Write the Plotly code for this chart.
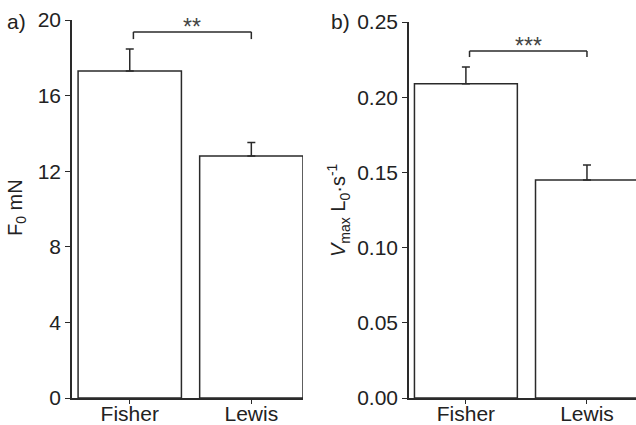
import plotly.graph_objects as go

categories = ["Fisher", "Lewis"]
force_vals = [17.3, 12.8]
force_err = [1.17, 0.72]
vmax_vals = [0.209, 0.145]
vmax_err = [0.011, 0.010]
force_ticks = [0, 4, 8, 12, 16, 20]
vmax_ticks = [0.0, 0.05, 0.10, 0.15, 0.20, 0.25]

W, H = 636, 425
FONT = "Liberation Sans, Arial, sans-serif"
LC = "#2a2a2a"
TC = "#222"

fig = go.Figure()

def px_x(p):
    return p / W

def px_y(p):
    return 1 - p / H

for i, (vals, errs) in enumerate([(force_vals, force_err), (vmax_vals, vmax_err)]):
    xa = "x" if i == 0 else "x2"
    ya = "y" if i == 0 else "y2"
    fig.add_trace(go.Bar(
        x=[0, 1], y=vals, width=0.85,
        marker=dict(color="white", line=dict(color=LC, width=1.5)),
        error_y=dict(type="data", symmetric=False, array=errs, arrayminus=[0, 0],
                     color=LC, thickness=1.5, width=4),
        xaxis=xa, yaxis=ya, showlegend=False, hoverinfo="skip"))

def ax(**kw):
    d = dict(showgrid=False, zeroline=False, showline=True, linecolor=LC, linewidth=1.5,
             ticks="outside", ticklen=5, tickwidth=1.2, tickcolor=LC, automargin=False,
             tickfont=dict(family=FONT, size=21, color=TC))
    d.update(kw)
    return d

fig.update_layout(
    width=W, height=H, margin=dict(l=0, r=0, t=0, b=0),
    paper_bgcolor="white", plot_bgcolor="white",
    xaxis=ax(domain=[px_x(72), px_x(303)], range=[-0.475, 1.425], anchor="y",
             tickvals=[0, 1], ticktext=categories, ticklen=4, ticklabelstandoff=-8),
    yaxis=ax(domain=[px_y(398), px_y(20)], range=[0, 20], anchor="x",
             tickvals=force_ticks),
    xaxis2=ax(domain=[px_x(409), 1.0], range=[-0.47, 1.405], anchor="y2",
              tickvals=[0, 1], ticktext=categories, ticklen=4, ticklabelstandoff=-8),
    yaxis2=ax(domain=[px_y(398), px_y(22)], range=[0, 0.25], anchor="x2",
              tickvals=vmax_ticks, tickformat=".2f"),
)

# significance brackets computed from data
def bracket(vals, errs, xref, yref, rise, drop, label):
    top = max(v + e for v, e in zip(vals, errs))
    yb = top + rise
    ye = yb - drop
    x0, x1 = 0.03, 1.0
    for (xa, ya, xb, yb2) in [(x0, ye, x0, yb), (x0, yb, x1, yb), (x1, yb, x1, ye)]:
        fig.add_shape(type="line", x0=xa, y0=ya, x1=xb, y1=yb2, xref=xref, yref=yref,
                      line=dict(color=LC, width=1.5))
    fig.add_annotation(x=(x0 + x1) / 2, y=yb, xref=xref, yref=yref, text=label,
                       showarrow=False, yanchor="middle", yshift=5,
                       font=dict(family=FONT, size=23, color="#444"))

bracket(force_vals, force_err, "x", "y", 0.9, 0.38, "**")
bracket(vmax_vals, vmax_err, "x2", "y2", 0.0107, 0.004, "***")

# panel labels
fig.add_annotation(x=px_x(5), y=px_y(22), xref="paper", yref="paper", text="a)",
                   showarrow=False, xanchor="left", yanchor="middle",
                   font=dict(family=FONT, size=21, color=TC))
fig.add_annotation(x=px_x(329), y=px_y(22), xref="paper", yref="paper", text="b)",
                   showarrow=False, xanchor="left", yanchor="middle",
                   font=dict(family=FONT, size=21, color=TC))

# axis titles
fig.add_annotation(x=px_x(16), y=px_y(208), xref="paper", yref="paper",
                   text="F<sub>0</sub> mN", textangle=-90, showarrow=False,
                   xanchor="center", yanchor="middle",
                   font=dict(family=FONT, size=20, color=TC))
fig.add_annotation(x=px_x(338), y=px_y(210), xref="paper", yref="paper",
                   text="<i>V</i><sub>max</sub> L<sub>0</sub>·s<sup>-1</sup>", textangle=-90,
                   showarrow=False, xanchor="center", yanchor="middle",
                   font=dict(family=FONT, size=20, color=TC))

fig.write_html("out.html")
